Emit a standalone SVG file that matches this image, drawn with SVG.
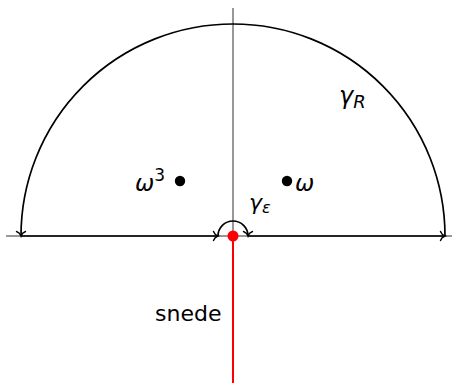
<svg xmlns="http://www.w3.org/2000/svg" width="458" height="386" viewBox="0 0 458 386">
<style>
.axis{stroke:#1a1a1a;stroke-width:0.9;fill:none}
.contour{stroke:#000;stroke-width:1.7;fill:none;marker-end:url(#to)}
.lbl{font-family:"DejaVu Sans",sans-serif;fill:#000}
.math{font-family:"DejaVu Sans",sans-serif;font-style:italic;fill:#000}
</style>
<defs>
<marker id="to" markerUnits="userSpaceOnUse" markerWidth="14" markerHeight="14" refX="0" refY="0" viewBox="-7 -7 14 14" orient="auto" overflow="visible">
<path d="M-4.5,-4.5 C-3.5,-1.8 -1.2,-0.4 0,0 C-1.2,0.4 -3.5,1.8 -4.5,4.5" fill="none" stroke="#000" stroke-width="1.4" stroke-linecap="round"/>
</marker>
</defs>
<g id="axes">
<line class="axis" x1="6" y1="236" x2="452" y2="236"/>
<line class="axis" x1="233" y1="8" x2="233" y2="236"/>
</g>
<g id="connectors">
<path class="contour" d="M21,236 L218,236"/>
<path class="contour" d="M218,236 A15,15 0 0 1 248,236"/>
<path class="contour" d="M248,236 L445,236"/>
<path class="contour" d="M445,236 A212,212 0 0 0 21,236"/>
<line x1="233" y1="236" x2="233" y2="383" stroke="#f00" stroke-width="2"/>
</g>
<g id="origin">
<circle cx="233" cy="236" r="5.5" fill="#f00"/>
</g>
<g id="omega3">
<circle cx="180" cy="181" r="5.2" fill="#000"/>
<text class="math" x="135" y="191" font-size="23">ω<tspan font-style="normal" font-size="17" dy="-10">3</tspan></text>
</g>
<g id="omega">
<circle cx="287" cy="181" r="5.2" fill="#000"/>
<text class="math" x="295" y="191" font-size="23">ω</text>
</g>
<g id="gammaR">
<text class="math" x="339" y="104" font-size="24">γ<tspan font-size="18" dy="4">R</tspan></text>
</g>
<g id="gammaEps">
<text class="math" x="249" y="210" font-size="22">γ<tspan font-size="16" dy="3">ε</tspan></text>
</g>
<g id="snede">
<text class="lbl" x="155" y="321" font-size="22">snede</text>
</g>
</svg>
